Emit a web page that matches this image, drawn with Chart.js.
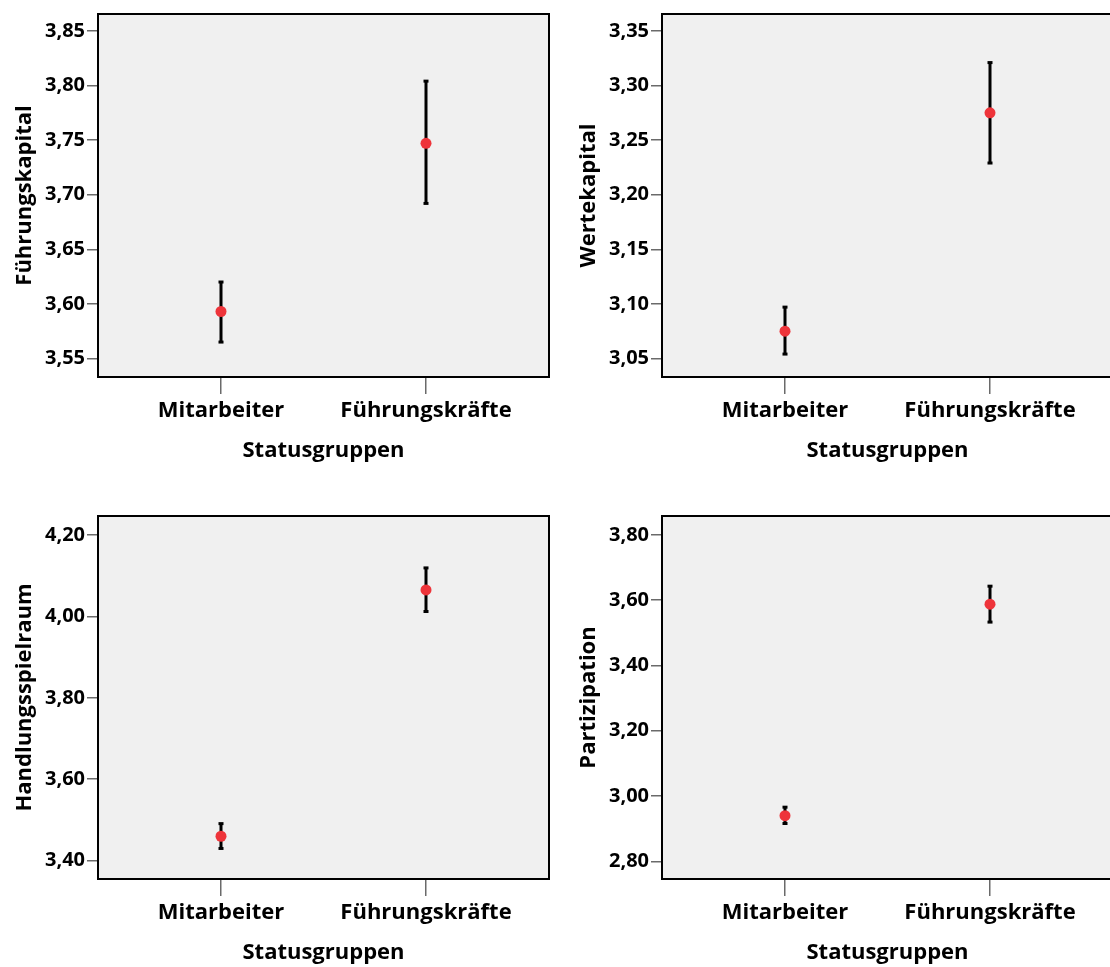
<!DOCTYPE html>
<html>
<head>
<meta charset="utf-8">
<script src="https://cdn.jsdelivr.net/npm/chart.js@4.4.0/dist/chart.umd.min.js"></script>
<style>
  body { margin: 0; background: #fff; overflow: hidden; width: 1110px; height: 967px; }
  .panel { position: absolute; }
</style>
</head>
<body>
<div class="panel" style="left:0px;top:0px"><canvas id="chart-fk" width="560" height="470"></canvas></div>
<div class="panel" style="left:564px;top:0px"><canvas id="chart-wk" width="560" height="470"></canvas></div>
<div class="panel" style="left:0px;top:502px"><canvas id="chart-hs" width="560" height="470"></canvas></div>
<div class="panel" style="left:564px;top:502px"><canvas id="chart-pa" width="560" height="470"></canvas></div>
<script>
// groups on the x axis
const categories = ['Mitarbeiter', 'Führungskräfte'];

// Führungskapital: mean and 95% CI
const fkMean = [3.593, 3.747];
const fkLow = [3.565, 3.692];
const fkHigh = [3.620, 3.804];
const fkTicks = [3.55, 3.60, 3.65, 3.70, 3.75, 3.80, 3.85];

// Wertekapital
const wkMean = [3.075, 3.275];
const wkLow = [3.054, 3.229];
const wkHigh = [3.097, 3.321];
const wkTicks = [3.05, 3.10, 3.15, 3.20, 3.25, 3.30, 3.35];

// Handlungsspielraum
const hsMean = [3.460, 4.065];
const hsLow = [3.430, 4.012];
const hsHigh = [3.491, 4.119];
const hsTicks = [3.40, 3.60, 3.80, 4.00, 4.20];

// Partizipation
const paMean = [2.940, 3.588];
const paLow = [2.916, 3.533];
const paHigh = [2.966, 3.643];
const paTicks = [2.80, 3.00, 3.20, 3.40, 3.60, 3.80];

const TICK_FONT = { family: 'Open Sans', size: 20, weight: 'bold' };
const LABEL_FONT = { family: 'Open Sans', size: 22, weight: 'bold' };
const TEXT = '#000';
const TICK_COLOR = '#6a6a6a';

// grey plot background with a black frame
const framePlugin = {
  id: 'frame',
  beforeDraw(chart) {
    const a = chart.chartArea;
    const ctx = chart.ctx;
    ctx.save();
    ctx.fillStyle = '#f0f0f0';
    ctx.fillRect(a.left, a.top, a.right - a.left, a.bottom - a.top);
    ctx.restore();
  },
  afterDraw(chart) {
    const a = chart.chartArea;
    const ctx = chart.ctx;
    ctx.save();
    ctx.strokeStyle = '#000';
    ctx.lineWidth = 2;
    ctx.strokeRect(a.left, a.top, a.right - a.left, a.bottom - a.top);
    ctx.restore();
  }
};

function fmt(v) {
  return v.toFixed(2).replace('.', ',');
}

function makeChart(id, yTitle, means, lows, highs, ticks, yMin, yMax) {
  const datasets = [];
  // error bars, one line per group
  categories.forEach((c, i) => {
    datasets.push({
      type: 'line',
      data: [{ x: i, y: lows[i] }, { x: i, y: highs[i] }],
      showLine: true,
      borderColor: '#000',
      borderWidth: 3,
      pointStyle: 'line',
      pointRadius: 2.5,
      pointBorderWidth: 3,
      pointBorderColor: '#000',
      pointBackgroundColor: '#000',
      order: 1
    });
  });
  datasets.push({
    type: 'scatter',
    data: means.map((m, i) => ({ x: i, y: m })),
    pointRadius: 5.5,
    pointBackgroundColor: 'rgb(238,52,58)',
    pointBorderWidth: 0,
    order: 0
  });

  return new Chart(document.getElementById(id), {
    type: 'scatter',
    data: { datasets: datasets },
    plugins: [framePlugin],
    options: {
      responsive: false,
      animation: false,
      devicePixelRatio: 1,
      layout: { padding: { top: 13, right: 11, left: 0, bottom: 3 } },
      plugins: { legend: { display: false }, tooltip: { enabled: false } },
      scales: {
        x: {
          type: 'linear',
          min: -0.6,
          max: 1.6,
          afterBuildTicks: (scale) => { scale.ticks = categories.map((c, i) => ({ value: i })); },
          afterFit: (scale) => { scale.height = 90; },
          ticks: {
            color: TEXT,
            font: LABEL_FONT,
            padding: 4,
            maxRotation: 0,
            callback: (v) => categories[v]
          },
          grid: { drawOnChartArea: false, drawTicks: true, tickLength: 17, color: TICK_COLOR, lineWidth: 1.5 },
          border: { display: false },
          title: { display: true, text: 'Statusgruppen', color: TEXT, font: LABEL_FONT, padding: { top: 4, bottom: 3 } }
        },
        y: {
          min: yMin,
          max: yMax,
          afterBuildTicks: (scale) => { scale.ticks = ticks.map(v => ({ value: v })); },
          afterFit: (scale) => { scale.width = 98; },
          ticks: {
            color: TEXT,
            font: TICK_FONT,
            padding: 2,
            callback: (v) => fmt(v)
          },
          grid: { drawOnChartArea: false, drawTicks: true, tickLength: 11, color: TICK_COLOR, lineWidth: 1.5 },
          border: { display: false },
          title: { display: true, text: yTitle, color: TEXT, font: LABEL_FONT, padding: { top: 12, bottom: 4 } }
        }
      }
    }
  });
}

makeChart('chart-fk', 'Führungskapital', fkMean, fkLow, fkHigh, fkTicks, 3.533, 3.8655);
makeChart('chart-wk', 'Wertekapital', wkMean, wkLow, wkHigh, wkTicks, 3.033, 3.3655);
makeChart('chart-hs', 'Handlungsspielraum', hsMean, hsLow, hsHigh, hsTicks, 3.355, 4.2465);
makeChart('chart-pa', 'Partizipation', paMean, paLow, paHigh, paTicks, 2.746, 3.858);
</script>
</body>
</html>
